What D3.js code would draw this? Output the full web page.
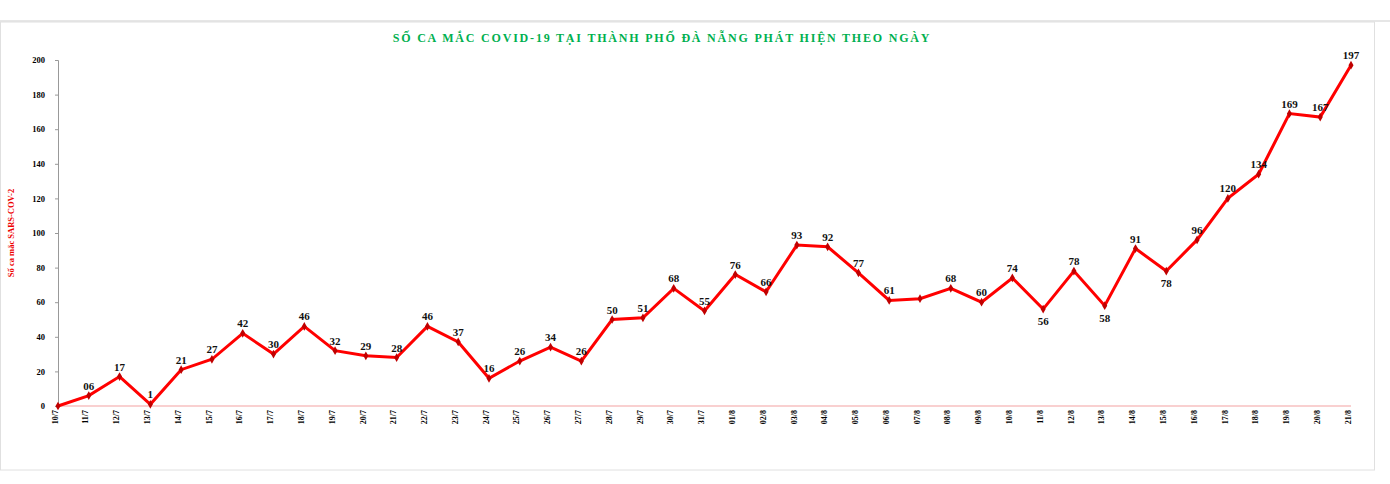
<!DOCTYPE html>
<html><head><meta charset="utf-8">
<script src="https://cdn.jsdelivr.net/npm/d3@7"></script>
<style>body{margin:0;background:#fff}</style>
</head><body>
<script>
const dates = ["10/7","11/7","12/7","13/7","14/7","15/7","16/7","17/7","18/7","19/7","20/7","21/7","22/7","23/7","24/7","25/7","26/7","27/7","28/7","29/7","30/7","31/7",
  "01/8","02/8","03/8","04/8","05/8","06/8","07/8","08/8","09/8","10/8","11/8","12/8","13/8","14/8","15/8","16/8","17/8","18/8","19/8","20/8","21/8"];
const cases = [0,6,17,1,21,27,42,30,46,32,29,28,46,37,16,26,34,26,50,51,68,55,
  76,66,93,92,77,61,62,68,60,74,56,78,58,91,78,96,120,134,169,167,197];
const labels = ["","06","17","1","21","27","42","30","46","32","29","28","46","37","16","26","34","26","50","51","68","55",
  "76","66","93","92","77","61","","68","60","74","56","78","58","91","78","96","120","134","169","167","197"];
const below = ["11/8","13/8","15/8"];
const yTicks = [0,20,40,60,80,100,120,140,160,180,200];

const width = 1390, height = 484;
const svg = d3.select("body").append("svg").attr("width", width).attr("height", height)
  .style("font-family", "'Liberation Serif', serif");

svg.append("line").attr("x1",0).attr("x2",width).attr("y1",21).attr("y2",21).attr("stroke","#e6e6e6").attr("stroke-width",2);
svg.append("rect").attr("x",0.5).attr("y",22).attr("width",1374).attr("height",448).attr("fill","none").attr("stroke","#e0e0e0");

const x = d3.scalePoint(dates, [58, 1351]);
const y = d3.scaleLinear([0, 200], [406, 60]);

svg.append("text").attr("x", 662).attr("y", 42).attr("text-anchor","middle")
  .attr("fill","#00b050").attr("font-weight","bold").attr("font-size",12).attr("letter-spacing",1.8)
  .text("SỐ CA MẮC COVID-19 TẠI THÀNH PHỐ ĐÀ NẴNG PHÁT HIỆN THEO NGÀY");

svg.append("text").attr("transform","translate(14,233) rotate(-90)").attr("text-anchor","middle")
  .attr("fill","#e00").attr("font-weight","bold").attr("font-size",8.5)
  .text("Số ca mắc SARS-COV-2");

const yAxis = svg.append("g").attr("transform","translate(58,0)")
  .call(d3.axisLeft(y).tickValues(yTicks).tickSize(3).tickPadding(10));
yAxis.select(".domain").attr("stroke","#999");
yAxis.selectAll("line").attr("stroke","#999");
yAxis.selectAll("text").attr("font-family","'Liberation Serif', serif").attr("font-weight","bold").attr("font-size",8.5);

svg.append("line").attr("x1",58).attr("x2",1351).attr("y1",y(0)).attr("y2",y(0)).attr("stroke","#f7c0c0").attr("stroke-width",1.5);

const xAxis = svg.append("g").attr("transform",`translate(0,${y(0)})`)
  .call(d3.axisBottom(x).tickSize(0).tickPadding(4));
xAxis.select(".domain").remove();
xAxis.selectAll("text").attr("font-family","'Liberation Serif', serif").attr("font-weight","bold").attr("font-size",8)
  .attr("transform","rotate(-90)").attr("text-anchor","end").attr("dx","-0.5em").attr("dy","-0.6em");

svg.append("path").datum(cases)
  .attr("fill","none").attr("stroke","#ff0000").attr("stroke-width",3).attr("stroke-linejoin","miter")
  .attr("d", d3.line((d,i) => x(dates[i]), d => y(d)));

svg.append("g").selectAll("path").data(cases).join("path")
  .attr("transform",(d,i) => `translate(${x(dates[i])},${y(d)})`)
  .attr("d", d3.symbol(d3.symbolDiamond, 22)).attr("fill","#c00000");

svg.append("g").selectAll("text").data(cases).join("text")
  .attr("x",(d,i) => x(dates[i]))
  .attr("y",(d,i) => below.includes(dates[i]) ? y(d) + 16 : y(d) - 6)
  .attr("text-anchor","middle").attr("font-weight","bold").attr("font-size",11).attr("fill","#111")
  .text((d,i) => labels[i]);
</script>
</body></html>
